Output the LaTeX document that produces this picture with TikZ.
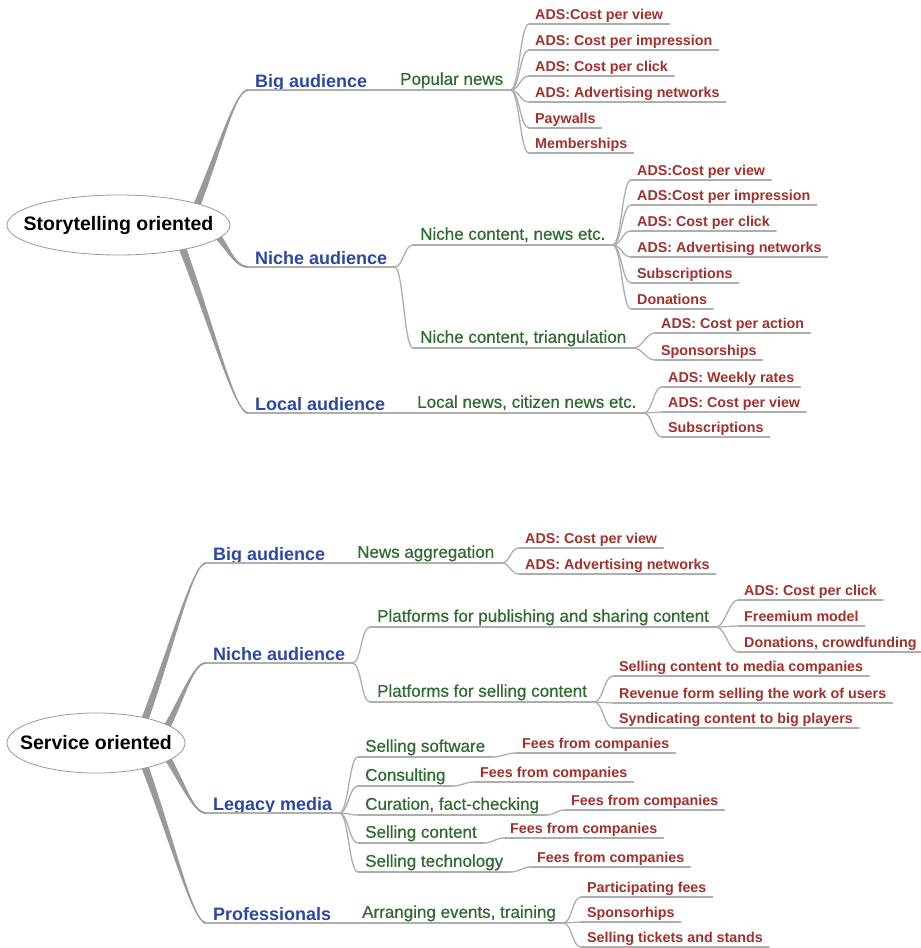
\documentclass[tikz,border=0pt]{standalone}
\usepackage{fontspec}
\setmainfont{Liberation Sans}
\newfontfamily\subfont[FakeBold=0.6]{Liberation Sans}
\usepackage{xcolor}
\usepackage{tikz}
\usetikzlibrary{calc,shapes.geometric,backgrounds}
\definecolor{mmBlue}{HTML}{2B48A6}
\definecolor{mmGreen}{HTML}{2E6B2E}
\definecolor{mmRed}{HTML}{A3302A}
\definecolor{mmLine}{HTML}{AEAEAE}
\definecolor{mmTrunk}{HTML}{999999}
\definecolor{mmRing}{HTML}{9A9A9A}

% tapered main branch: #1 root node, #2 x offset of its start inside the root, #3 topic node
\newcommand{\trunk}[3]{%
  \coordinate (trS) at ($(#1.center)+(#2,0)$);
  \coordinate (trE) at (#3.south west);
  \coordinate (trM) at ($(trS)!0.5!(trE)$);
  \fill[trunkfill] ($(trS)!4pt!90:(trE)$)
      .. controls ($(trM)!2.6pt!90:(trE)$) and ($(trE)+(-14,1)$) .. ($(trE)+(0,1)$)
    -- ($(trE)+(0,-1)$)
      .. controls ($(trE)+(-14,-1)$) and ($(trM)!2.6pt!-90:(trE)$) .. ($(trS)!4pt!-90:(trE)$)
    -- cycle;
}

\begin{document}
\begin{tikzpicture}[
  x=1pt, y=1pt,
  uline/.style={draw=mmLine, line width=1.3pt, line cap=round},
  underlined/.style={
    append after command={(\tikzlastnode.south west) edge[uline] (\tikzlastnode.south east)}
  },
  root/.style={
    ellipse, draw=mmRing, line width=0.8pt, fill=white,
    inner sep=0pt, minimum height=60pt,
    font=\bfseries\fontsize{19.5}{22}\selectfont, text=black
  },
  topic/.style={
    anchor=south west, inner xsep=7pt, inner ysep=0pt, text depth=2.5pt,
    font=\bfseries\fontsize{18}{20}\selectfont, text=mmBlue, underlined
  },
  sub/.style={
    anchor=south west, inner xsep=7pt, inner ysep=0pt, text depth=5pt,
    font=\subfont\fontsize{17}{19}\selectfont, text=mmGreen, underlined
  },
  leaf/.style={
    anchor=south west, inner xsep=6pt, inner ysep=0pt, text depth=4pt,
    font=\bfseries\fontsize{14.3}{16}\selectfont, text=mmRed, underlined
  },
  twig/.style={
    draw=mmLine, line width=1.3pt, line cap=round,
    to path={.. controls +(9,0) and +(-9,0) .. (\tikztotarget)}
  },
  trunkfill/.style={fill=mmTrunk}
]
\useasboundingbox (0,0) rectangle (921,-948);

% ---- storytelling oriented ---------------------------------------------------
\node[root, minimum width=223pt] (story) at (118.5,-225) {\makebox[0pt]{Storytelling oriented}};

\node[topic] (bigS)   at (248,-90)  {Big audience};
\node[topic] (nicheS) at (248,-267) {Niche audience};
\node[topic] (localS) at (248,-413) {Local audience};

\node[sub] (popular)   at (393,-90)  {Popular news};
\node[sub] (nicheNews) at (413,-245) {Niche content, news etc.};
\node[sub] (nicheTri)  at (413,-348) {Niche content, triangulation};
\node[sub] (localNews) at (410,-413) {Local news, citizen news etc.};

\node[leaf] (pop1) at (529,-24)  {ADS:Cost per view};
\node[leaf] (pop2) at (529,-50)  {ADS: Cost per impression};
\node[leaf] (pop3) at (529,-76)  {ADS: Cost per click};
\node[leaf] (pop4) at (529,-102) {ADS: Advertising networks};
\node[leaf] (pop5) at (529,-128) {Paywalls};
\node[leaf] (pop6) at (529,-153) {Memberships};

\node[leaf] (nn1) at (631,-180) {ADS:Cost per view};
\node[leaf] (nn2) at (631,-205) {ADS:Cost per impression};
\node[leaf] (nn3) at (631,-231) {ADS: Cost per click};
\node[leaf] (nn4) at (631,-257) {ADS: Advertising networks};
\node[leaf] (nn5) at (631,-283) {Subscriptions};
\node[leaf] (nn6) at (631,-309) {Donations};

\node[leaf] (nt1) at (655,-333) {ADS: Cost per action};
\node[leaf] (nt2) at (655,-360) {Sponsorships};

\node[leaf] (ln1) at (662,-387) {ADS: Weekly rates};
\node[leaf] (ln2) at (662,-412) {ADS: Cost per view};
\node[leaf] (ln3) at (662,-437) {Subscriptions};

% ---- service oriented --------------------------------------------------------
\node[root, minimum width=178pt] (service) at (96,-743) {\makebox[0pt]{Service oriented}};

\node[topic] (bigB)   at (206,-563) {Big audience};
\node[topic] (nicheB) at (206,-663) {Niche audience};
\node[topic] (legacy) at (206,-813) {Legacy media};
\node[topic] (prof)   at (206,-923) {Professionals};

\node[sub] (aggreg)   at (350,-563) {News aggregation};
\node[sub] (platPub)  at (370,-627) {Platforms for publishing and sharing content};
\node[sub] (platSell) at (370,-702) {Platforms for selling content};
\node[sub] (soft)     at (358,-757) {Selling software};
\node[sub] (consult)  at (358,-786) {Consulting};
\node[sub] (curation) at (358,-815) {Curation, fact-checking};
\node[sub] (sellCont) at (358,-843) {Selling content};
\node[sub] (sellTech) at (358,-872) {Selling technology};
\node[sub] (events)   at (355,-923) {Arranging events, training};

\node[leaf] (agg1) at (519,-548) {ADS: Cost per view};
\node[leaf] (agg2) at (519,-574) {ADS: Advertising networks};

\node[leaf] (pub1) at (738,-600) {ADS: Cost per click};
\node[leaf] (pub2) at (738,-626) {Freemium model};
\node[leaf] (pub3) at (738,-652) {Donations, crowdfunding};

\node[leaf] (sell1) at (613,-676) {Selling content to media companies};
\node[leaf] (sell2) at (613,-703) {Revenue form selling the work of users};
\node[leaf] (sell3) at (613,-728) {Syndicating content to big players};

\node[leaf] (fee1) at (516,-753) {Fees from companies};
\node[leaf] (fee2) at (474,-782) {Fees from companies};
\node[leaf] (fee3) at (565,-810) {Fees from companies};
\node[leaf] (fee4) at (504,-838) {Fees from companies};
\node[leaf] (fee5) at (531,-867) {Fees from companies};

\node[leaf] (ev1) at (581,-897) {Participating fees};
\node[leaf] (ev2) at (581,-922) {Sponsorhips};
\node[leaf] (ev3) at (581,-947) {Selling tickets and stands};

% ---- branches ----------------------------------------------------------------
\begin{scope}[on background layer]
  \fill[white] (0,0) rectangle (921,-948);

  \trunk{story}{70}{bigS}
  \trunk{story}{90}{nicheS}
  \trunk{story}{55}{localS}
  \trunk{service}{40}{bigB}
  \trunk{service}{62}{nicheB}
  \trunk{service}{62}{legacy}
  \trunk{service}{40}{prof}

  \draw[twig] (bigS.south east)   to (popular.south west);
  \draw[twig] (nicheS.south east) to (nicheNews.south west);
  \draw[twig] (nicheS.south east) to (nicheTri.south west);
  \draw[twig] (localS.south east) to (localNews.south west);

  \draw[twig] (popular.south east) to (pop1.south west);
  \draw[twig] (popular.south east) to (pop2.south west);
  \draw[twig] (popular.south east) to (pop3.south west);
  \draw[twig] (popular.south east) to (pop4.south west);
  \draw[twig] (popular.south east) to (pop5.south west);
  \draw[twig] (popular.south east) to (pop6.south west);

  \draw[twig] (nicheNews.south east) to (nn1.south west);
  \draw[twig] (nicheNews.south east) to (nn2.south west);
  \draw[twig] (nicheNews.south east) to (nn3.south west);
  \draw[twig] (nicheNews.south east) to (nn4.south west);
  \draw[twig] (nicheNews.south east) to (nn5.south west);
  \draw[twig] (nicheNews.south east) to (nn6.south west);

  \draw[twig] (nicheTri.south east) to (nt1.south west);
  \draw[twig] (nicheTri.south east) to (nt2.south west);

  \draw[twig] (localNews.south east) to (ln1.south west);
  \draw[twig] (localNews.south east) to (ln2.south west);
  \draw[twig] (localNews.south east) to (ln3.south west);

  \draw[twig] (bigB.south east)   to (aggreg.south west);
  \draw[twig] (nicheB.south east) to (platPub.south west);
  \draw[twig] (nicheB.south east) to (platSell.south west);
  \draw[twig] (legacy.south east) to (soft.south west);
  \draw[twig] (legacy.south east) to (consult.south west);
  \draw[twig] (legacy.south east) to (curation.south west);
  \draw[twig] (legacy.south east) to (sellCont.south west);
  \draw[twig] (legacy.south east) to (sellTech.south west);
  \draw[twig] (prof.south east)   to (events.south west);

  \draw[twig] (aggreg.south east) to (agg1.south west);
  \draw[twig] (aggreg.south east) to (agg2.south west);

  \draw[twig] (platPub.south east) to (pub1.south west);
  \draw[twig] (platPub.south east) to (pub2.south west);
  \draw[twig] (platPub.south east) to (pub3.south west);

  \draw[twig] (platSell.south east) to (sell1.south west);
  \draw[twig] (platSell.south east) to (sell2.south west);
  \draw[twig] (platSell.south east) to (sell3.south west);

  \draw[twig] (soft.south east)     to (fee1.south west);
  \draw[twig] (consult.south east)  to (fee2.south west);
  \draw[twig] (curation.south east) to (fee3.south west);
  \draw[twig] (sellCont.south east) to (fee4.south west);
  \draw[twig] (sellTech.south east) to (fee5.south west);

  \draw[twig] (events.south east) to (ev1.south west);
  \draw[twig] (events.south east) to (ev2.south west);
  \draw[twig] (events.south east) to (ev3.south west);
\end{scope}

\end{tikzpicture}
\end{document}
